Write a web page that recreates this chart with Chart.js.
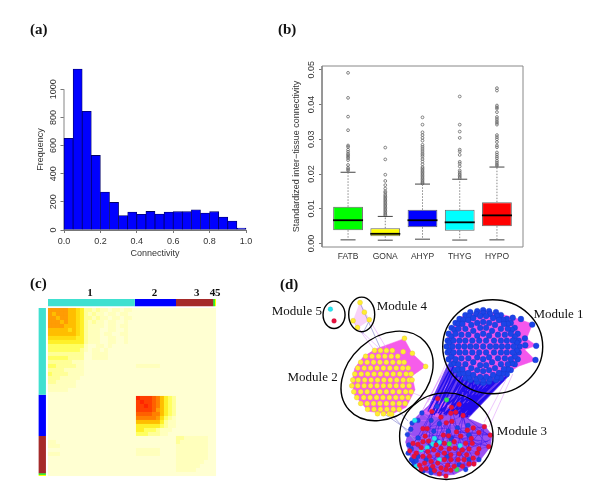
<!DOCTYPE html>
<html><head><meta charset="utf-8">
<script src="https://cdn.jsdelivr.net/npm/chart.js@4"></script>
<style>
html,body{margin:0;padding:0;background:#fff;width:600px;height:502px;overflow:hidden}
canvas{position:absolute;left:0;top:0;filter:blur(.4px)}
#c{filter:blur(.7px)}
.tag{position:absolute;font:bold 15px "Liberation Serif";color:#111;line-height:16px;filter:blur(.25px)}
</style></head><body>
<canvas id="a" width="600" height="502"></canvas>
<canvas id="b" width="600" height="502"></canvas>
<canvas id="c" width="600" height="502"></canvas>
<canvas id="d" width="600" height="502"></canvas>
<div class="tag" style="left:30px;top:21px">(a)</div>
<div class="tag" style="left:278px;top:21px">(b)</div>
<div class="tag" style="left:30px;top:275px">(c)</div>
<div class="tag" style="left:280px;top:276px">(d)</div>
<script>
// ---------- panel (a)
const histBins=[0.025,0.075,0.125,0.175,0.225,0.275,0.325,0.375,0.425,0.475,0.525,0.575,0.625,0.675,0.725,0.775,0.825,0.875,0.925,0.975];
const histFreq=[652,1144,844,530,270,196,102,128,111,132,113,128,130,130,144,120,130,92,64,14];
const histXTicks=[0,0.2,0.4,0.6,0.8,1];
const histYTicks=[0,200,400,600,800,1000];
// ---------- panel (b)
const tissues=["FATB","GONA","AHYP","THYG","HYPO"];
const boxColors=["#00FF00","#FFFF00","#0000FF","#00FFFF","#FF0000"];
const boxQ1=[0.00384,0.0021,0.0047,0.0037,0.0050];
const boxMedian=[0.0067,0.0028,0.0067,0.0061,0.0081];
const boxQ3=[0.01056,0.0044,0.0097,0.0097,0.0119];
const whiskerLow=[0.00105,0.00096,0.00125,0.0010,0.00105];
const whiskerHigh=[0.0205,0.0078,0.0171,0.0185,0.0220];
const outFATB=[.0491,.0419,.0365,.0326,.0282,.0278,.0270,.0264,.0258,.0254,.0250,.0246,.0240,.0226,.0218,.0214,.0210];
const outGONA=[.0276,.0242,.0198,.0180,.0168,.0158,.0150,.0146,.0140,.0136,.0132,.0128,.0124,.0120,.0116,.0112,.0108,.0104,.0100,.0096,.0092,.0088,.0084,.0081];
const outAHYP=[.0363,.0342,.0320,.0312,.0304,.0296,.0284,.0278,.0272,.0266,.0260,.0255,.0250,.0243,.0236,.0228,.0220,.0216,.0212,.0208,.0204,.0200,.0196,.0192,.0188,.0184,.0180,.0176,.0173];
const outTHYG=[.0423,.0342,.0322,.0304,.0270,.0265,.0255,.0235,.0230,.0222,.0210,.0205,.0200,.0196,.0192,.0188];
const outHYPO=[.0447,.0440,.0397,.0392,.0388,.0378,.0364,.0358,.0352,.0347,.0342,.0312,.0306,.0300,.0292,.0282,.0277,.0262,.0256,.0250,.0245,.0238,.0233,.0228,.0224];
const boxYTicks=[0,0.01,0.02,0.03,0.04,0.05];
// ---------- panel (c)
const heatPalette={a:"#FFFFD2",b:"#FFFFBC",c:"#FFFF98",d:"#FFFF60",e:"#FFF028",f:"#FFDC10",g:"#FFBE00",h:"#FF9C04",i:"#FF8000",j:"#FF6000",k:"#FF4000",l:"#FF2600"};
const heatRows=[
"hhhhhggfeccbcbbabbabba","hghhhggfecbcbbabbabba","hhghhggfeccbcbbabbabb","hhhghggfecbcbbabbaaba","hhhhgggfecbbbbabbabba",
"gggggfgfecbbbaabbaaba","gggggggfecbbbabbaabba","fffffffeecbbbaabbaaba","eeeeeeeeecbbbaabbaaba","dddddddddbaabbabaaaaa",
"ddddddddcbabbabaaaaaa","cccccccccaabbbbaaaaaa","dddddccccaabbbbaaaaaa","ccccccbbbaaaaaaaaaaaa","ddcccccbbaaaaaaaaaaaaabbbbbb",
"ccccbbbbbaaaaaaaaaaaa","dccccbbbbaaaaaaaaaaaa","cccbbbbbaaaaaaaaaaaaa","ccbbbbbaaaaaaaaaaaaaa","bbbbbbbaaaaaaaaaaaaaa","bbbbbaaaaaaaaaaaaaaaa","",
"aaaaaaaaaaaaaaaaaaaaaalkkkjigedc","aaaaaaaaaaaaaaaaaaaaaaklkkjigedc","aaaaaaaaaaaaaaaaaaaaaakklkjigedc","aaaaaaaaaaaaaaaaaaaaaakkkkjhgedc",
"aaaaaaaaaaaaaaaaaaaaaajjjjiigedc","aaaaaaaaaaaaaaaaaaaaaaiiiiihfdcb","aaaaaaaaaaaaaaaaaaaaaaggggggecbb","aaaaaaaaaaaaaaaaaaaaaaeeeeeedcbb",
"aaaaaaaaaaaaaaaaaaaaaaeedddcbbba","aaaaaaaaaaaaaaaaaaaaaadddcccbbaa",
"aaaaaaaaaaaaaaaaaaaaaaaaaaaaaaaaccbbbbbbaa","bbaaaaaaaaaaaaaaaaaaaaaaaaaaaaaacbbbbbbbaa","bbbaaaaaaaaaaaaaaaaaaaaaaaaaaaaabbbbbbbbaa","aaaaaaaaaaaaaaaaaaaaaabbbbbbaaaabbbbbbbbaa",
"bbbaaaaaaaaaaaaaaaaaaabbbbbbaaaabbbbbbbbaa","aaaaaaaaaaaaaaaaaaaaaaaaaaaaaaaabbbbbbbbaa","aaaaaaaaaaaaaaaaaaaaaaaaaaaaaaaabbbbbbbaaa","aaaaaaaaaaaaaaaaaaaaaaaaaaaaaaaabbbbbbaaaa",
"aaaaaaaaaaaaaaaaaaaaaaaaaaaaaaaabbbbbaaaaa","aaaaaaaaaaaaaaaaaaaaaaaaaaaaaaaaaaaaaaaaaa"];
const moduleEdges=[0,21.7,32,41.3,41.7,42];
const moduleColors=["#40E0D0","#0000FF","#A52A2A","#00EE00","#FFFF00"];
const moduleLabels=["1","2","3","4","5"];
const moduleLabelAt=[10.5,26.6,37.2,41.1,42.45];
// ---------- panel (d)  (coordinates on the 600x502 layout axes)
const module1Nodes=[523,348,522,354,521,361,518,366,514,372,510,376,504,380,499,382,492,384,486,385,480,384,473,382,468,380,462,376,458,372,454,366,451,361,450,354,449,348,450,342,451,335,454,329,458,324,462,320,468,316,473,313,480,312,486,311,492,312,499,313,504,316,510,320,514,324,518,329,521,335,522,342,
520,352,518,358,515,365,511,371,506,375,500,379,493,381,486,382,479,381,472,379,466,375,461,371,457,365,454,358,452,352,452,344,454,338,457,331,461,325,466,321,472,317,479,315,486,314,493,315,500,317,506,321,511,325,515,331,518,338,520,344,
517,348,516,354,514,361,511,366,507,371,502,375,496,377,489,379,483,379,476,377,471,375,465,371,461,366,458,361,456,354,455,348,456,342,458,335,461,330,465,325,471,321,476,319,483,317,489,317,496,319,502,321,507,325,511,330,514,335,516,342,
511,348,510,354,508,360,504,366,498,370,492,372,486,373,480,372,474,370,468,366,464,360,462,354,461,348,462,342,464,336,468,330,474,326,480,324,486,323,492,324,498,326,504,330,508,336,510,342,
505,348,504,354,501,360,495,364,489,367,483,367,476,364,471,360,468,354,467,348,468,342,471,336,476,332,483,329,489,329,495,332,501,336,504,342,
499,348,497,354,492,359,486,361,480,359,475,354,473,348,475,342,480,337,486,335,492,337,497,342,493,348,489,354,482,354,479,348,482,342,489,342,486,348,
516,318.7,524.3,320,535.7,325.7,528.3,339.7,528.7,346.7,539.7,347.3,539,361.7];
const module2Rows=[[352,376,382,388,394],[358,367,373.5,380,386.5,393,399.5],[364,362,368.5,375,381.5,388,394.5,401,406],[370,359,365.5,372,378.5,385,391.5,398,404.5,410],[376,356,362.5,369,375.5,382,388.5,395,401.5,408,413],[382,354,359.5,366,372.5,379,385.5,392,398.5,405,411,414],[388,353,359,365.5,372,378.5,385,391.5,398,404.5,411],[394,355,362,368.5,375,381.5,388,394.5,401,407.5,413],[400,358,365,371.5,378,384.5,391,397.5,404,410],[406,362,368.5,375,381.5,388,394.5,401,407],[412,369,375.5,382,388.5,395,401],[416.5,379,385,391]];
const module2Extra=[406.3,339.7,414.3,355,427.7,368.3,405,353.3,393.3,417];
const module4Nodes=[361.3,303.3,365.7,313,370.7,320.7,354.3,321.7,358.7,328.7];
const module3Red=[440,401,434,414.3,454,410,461.7,407,443.3,420,453.3,416,458.3,415,465.7,418.3,448.7,425.7,454.3,424.3,425,431.7,429.3,431.7,476,431,487.3,429.7,470,433.3,459,435,481.7,435.7,493.3,438.3,427.3,439.3,445.7,438.3,451,439,463.3,439.3,474,441.7,491.7,450,481.7,452.3,475,446.7,468.3,446.7,456.7,445,446.7,446.7,438.3,448.3,430.7,444.3,425,445,420,447.7,415,446.7,423.3,451,430,455,436,453.3,443.3,451.7,451.7,452.3,457.3,451.7,465,453.3,471.7,452.3,480,456.7,411.7,454.3,418.3,456.7,425,460,431.7,460,440,458.3,446.7,456.7,453.3,458.3,461.7,457.3,469.3,458.3,476,461.7,416,460,433.3,465,440,466.7,446.7,463.3,453.3,463.3,460.7,463.3,466.7,463.3,471.7,467.7,426.7,466.7,421.7,469,435,470,443.3,471.7,450,469,456.7,470,465,470,476.7,467.7,428.3,472.3,441.7,477.7,448.3,473.3,453.3,474,436.7,474.3,448.3,480,423.3,473.3,335,322];
const module3Blue=[439.3,409,424,415.7,433.3,423.3,420,423.3,414,426,412.7,432.3,409.3,437.7,420,441,436,434.3,460,431,470.7,428.3,441.7,426.7,450.7,434.3,410.7,448.3,413.3,452.3,415,465,418.3,464.3,431.7,450,420,460,428.3,463.3,468.3,473.3,481.7,463.3,450,460,461.7,468.3,433.3,476.7,433.3,472.7,413.3,463.3,416,468.3,440,445,453.3,441.7,471.7,438.3,410,456.7,425,475,471.7,463.3];
const module3Cyan=[416.7,423.3,436.7,441.7,435,447.3,441.7,445.7,462.7,449,423.3,453.3,429.3,451,441.7,463.3,418.3,470,331.3,310];
const module3Green=[449,402.3,451.7,447.3,459.3,473.3];
const module1Shape=[486,311,516,318,536,325,530,340,540,347,528,351,539,362,522,368,505,379,486,385,465,379,450,360,449,340,462,318];
const module2Shape=[376,351,406,340,414,355,428,368,414,378,417,392,408,410,393,417,370,414,356,398,353,385,356,370,365,358];
const module3Shape=[407.3,445,413.3,463.3,423.3,475,440,480,456.7,478.3,473.3,470,483.3,463.3,493.3,450,495,438.3,487.3,428.3,471.7,421.7,456.7,408.3,440,400,423.3,415,413.3,425,409.3,437.7];
const module4Shape=[361,303,371,321,359,329,354,322];
const bandShape=[450,366,512,378,470,422,428,415];
const pinkShape=[424,416,440,402,452,408,440,420];
const bandEdges=[456,368,434,418,458,370,438,416,462,374,442,414,465,376,446,415,468,378,450,416,472,380,454,414,475,381,458,415,480,383,462,417,484,384,466,417,488,384,470,415,492,384,470,418,496,383,466,420,500,382,462,419,504,380,458,418,507,382,464,421,478,382,440,416,482,383,446,417,486,384,452,417,490,384,456,417,494,384,460,416,498,383,464,415,502,381,468,414,470,379,462,420,474,381,466,419,476,382,470,420,480,383,474,417,510,378,468,420,512,376,472,418,452,372,430,414,454,374,433,417,460,376,436,418,466,380,442,418,470,382,448,418];
const lightEdges=[447,372,424,414,443,378,421,420,450,362,430,405,454,380,431,416,462,392,436,412,472,392,450,410,509,382,487,425,516,376,492,430,354,322,376,352,359,329,383,352,371,321,390,353,414,395,437,404];
const greyEdges=[361,303,382,350,393,417,420,447,385,416,414,436,399,412,410,424,371,321,364,335];
const fanBlue=[448,425,428,466,448,425,440,466,448,425,452,470,448,425,466,462,454,424,476,462,454,424,484,452,454,424,434,470,443,420,415,446,443,420,425,460,443,420,436,453,466,418,446,463,466,418,457,470,466,418,472,452,466,418,491,438,476,431,493,438,476,431,492,450,476,431,466,470,487,430,481,463,487,430,460,463,434,414,412,454,434,414,430,455,434,414,420,447,440,401,426,445,440,401,446,446,454,410,451,452,454,410,465,453,461,407,470,433,493,438,460,435,492,450,451,439,491,445,446,439,493,443,471,452,443,477,465,453,428,472,440,458,456,478,446,457,476,467,425,431,465,470,420,441,453,474,415,447,448,480];
const ringCenterX=[335,363,388.7,495.7,448.7];
const ringCenterY=[315.7,315.3,378,348.3,439.3];
const ringRadiusX=[11,13,51,50,46.7];
const ringRadiusY=[13.7,17.3,39,47,43.3];
const ringAngleDeg=[0,0,-42,0,0];
const noteTexts=["Module 1","Module 2","Module 3","Module 4","Module 5"];
const noteX=[562.3,313.3,525.3,403.7,297.3];
const noteY=[315.3,379.3,434.3,307.7,312.3];

const pts=f=>{const r=[];for(let i=0;i<f.length;i+=2)r.push({x:f[i],y:f[i+1]});return r;};
const segs=f=>{const r=[];for(let i=0;i<f.length;i+=4)r.push({x:f[i],y:f[i+1]},{x:f[i+2],y:f[i+3]},{x:NaN,y:NaN});return r;};
Chart.defaults.animation=false;
Chart.defaults.responsive=false;
Chart.defaults.plugins.legend.display=false;
Chart.defaults.plugins.tooltip.enabled=false;
Chart.defaults.font.family='"Liberation Sans"';
Chart.defaults.font.size=9;
Chart.defaults.color='#333';
const setTicks=list=>s=>{s.ticks=list.map(v=>({value:v}));};
const sansFont={family:'"Liberation Sans"',size:9};

new Chart(document.getElementById('a'),{type:'bar',data:{datasets:[
 {type:'scatter',showLine:true,data:[{x:0,y:0},{x:0,y:1000}],borderColor:'#999',borderWidth:1.2,pointRadius:0,clip:false,order:1},
 {data:histBins.map((x,i)=>({x,y:histFreq[i]})),backgroundColor:'#0000FF',borderColor:'#00006a',borderWidth:.8,borderSkipped:false,barPercentage:1,categoryPercentage:1,clip:false,order:0}
]},options:{layout:{padding:{left:35,top:69,right:354,bottom:243}},scales:{
 x:{type:'linear',offset:false,min:0,max:1,afterBuildTicks:setTicks(histXTicks),afterFit:s=>{s.height=29},
   grid:{offset:false,drawOnChartArea:false,tickLength:3,tickColor:'#777'},border:{color:'#777'},
   ticks:{maxRotation:0,autoSkip:false,padding:3,font:sansFont,callback:v=>v.toFixed(1)},
   title:{display:true,text:'Connectivity',font:sansFont,padding:0,color:'#333'}},
 y:{type:'linear',min:0,max:1144,afterBuildTicks:setTicks(histYTicks),afterFit:s=>{s.width=29},
   grid:{drawOnChartArea:false,tickLength:3.5,tickColor:'#777'},border:{display:false},
   ticks:{minRotation:90,maxRotation:90,crossAlign:'center',autoSkip:false,padding:-3.2,font:sansFont,callback:v=>String(v)},
   title:{display:true,text:'Frequency',font:sansFont,padding:0,color:'#333'}}
}}});

const boxWhisk=[];tissues.forEach((_,i)=>{boxWhisk.push({x:i+1,y:boxQ3[i]},{x:i+1,y:whiskerHigh[i]},{x:NaN,y:NaN},{x:i+1,y:boxQ1[i]},{x:i+1,y:whiskerLow[i]},{x:NaN,y:NaN});});
const outliers=[outFATB,outGONA,outAHYP,outTHYG,outHYPO];
const boxFrame=[{x:.3,y:-.001},{x:5.7,y:-.001},{x:5.7,y:.05107},{x:.3,y:.05107},{x:.3,y:-.001}];
new Chart(document.getElementById('b'),{type:'bar',data:{datasets:[
 {type:'scatter',data:boxMedian.map((y,i)=>({x:i+1,y})),pointStyle:'line',pointRadius:15,pointBorderWidth:1.8,pointBorderColor:'#000',order:0},
 {data:tissues.map((_,i)=>({x:i+1,y:[boxQ1[i],boxQ3[i]]})),backgroundColor:boxColors,borderColor:'#666',borderWidth:1,borderSkipped:false,barPercentage:.8,categoryPercentage:1,order:1},
 {type:'scatter',showLine:true,data:boxWhisk,borderColor:'#888',borderWidth:1,borderDash:[1.5,1.5],pointRadius:0,order:2},
 {type:'scatter',data:[...whiskerLow,...whiskerHigh].map((y,i)=>({x:i%5+1,y})),pointStyle:'line',pointRadius:7.5,pointBorderWidth:1,pointBorderColor:'#444',order:2},
 {type:'scatter',data:outliers.flatMap((o,i)=>o.map(y=>({x:i+1,y}))),pointRadius:1.4,pointBorderWidth:.8,pointBorderColor:'#666',pointBackgroundColor:'rgba(0,0,0,0)',order:3},
 {type:'scatter',showLine:true,data:boxFrame,borderColor:'#888',borderWidth:1,pointRadius:0,clip:false,order:4}
]},options:{layout:{padding:{left:291,top:66,right:77,bottom:235}},scales:{
 x:{type:'linear',offset:false,min:.3,max:5.7,afterBuildTicks:setTicks(tissues.map((_,i)=>i+1)),afterFit:s=>{s.height=20},
   grid:{display:false,offset:false,drawTicks:false},border:{display:false},
   ticks:{maxRotation:0,autoSkip:false,padding:5,font:{size:8.5},callback:v=>tissues[v-1]}},
 y:{type:'linear',min:-.001,max:.05107,afterBuildTicks:setTicks(boxYTicks),afterFit:s=>{s.width=31},
   grid:{drawOnChartArea:false,tickLength:3,tickColor:'#777'},border:{display:false},
   ticks:{minRotation:90,maxRotation:90,crossAlign:'center',autoSkip:false,padding:-.8,font:sansFont,callback:v=>v.toFixed(2)},
   title:{display:true,text:'Standardized inter\u2212tissue connectivity',font:sansFont,padding:0,color:'#333'}}
}}});

const heatPoints=[],heatColors=[];
heatRows.forEach((row,i)=>{row.padEnd(42,'a').split('').forEach((k,j)=>{heatPoints.push({x:j+.5,y:i+.5});heatColors.push(heatPalette[k]);});});
const strips=[];
moduleColors.forEach((c,i)=>{
 strips.push({type:'scatter',showLine:true,data:[{x:moduleEdges[i],y:-1.35},{x:moduleEdges[i+1],y:-1.35}],borderColor:c,borderWidth:7.3,pointRadius:0,borderCapStyle:'butt',clip:false});
 strips.push({type:'scatter',showLine:true,data:[{x:-1.43,y:moduleEdges[i]},{x:-1.43,y:moduleEdges[i+1]}],borderColor:c,borderWidth:7.3,pointRadius:0,borderCapStyle:'butt',clip:false});
});
new Chart(document.getElementById('c'),{type:'scatter',data:{datasets:[
 ...strips,
 {data:heatPoints,pointStyle:'rect',pointRadius:2.9,pointBorderWidth:0,pointBackgroundColor:heatColors}
]},options:{layout:{padding:{left:36,top:284,right:380,bottom:22}},scales:{
 x:{type:'linear',position:'top',min:-3,max:43,afterBuildTicks:setTicks(moduleLabelAt),afterFit:s=>{s.height=16},
   grid:{display:false,drawTicks:false},border:{display:false},
   ticks:{maxRotation:0,autoSkip:false,padding:0,color:'#111',font:{family:'"Liberation Serif"',size:11,weight:'bold'},callback:v=>moduleLabels[moduleLabelAt.indexOf(v)]}},
 y:{type:'linear',reverse:true,min:-2,max:43,display:false}
}}});

const flatRows=module2Rows.flatMap(r=>r.slice(1).flatMap(x=>[x,r[0]]));
const shape=(f,c,o)=>({type:'scatter',showLine:true,data:pts(f),fill:'shape',backgroundColor:c,borderColor:c,borderWidth:.5,pointRadius:0,order:o});
const edge=(f,c,w,o)=>({type:'scatter',showLine:true,data:segs(f),borderColor:c,borderWidth:w,pointRadius:0,order:o});
const nodes=(f,c,b,o,r)=>({type:'scatter',data:pts(f),pointRadius:r||2.4,pointBackgroundColor:c,pointBorderColor:b,pointBorderWidth:.3,order:o});
const ringPlugin={id:'rings',afterDatasetsDraw(ch){
 const {ctx,scales:{x,y}}=ch;ctx.save();ctx.strokeStyle='#000';ctx.lineWidth=1.4;
 ringCenterX.forEach((cx,i)=>{ctx.beginPath();
  ctx.ellipse(x.getPixelForValue(cx),y.getPixelForValue(ringCenterY[i]),ringRadiusX[i],ringRadiusY[i],ringAngleDeg[i]*Math.PI/180,0,Math.PI*2);ctx.stroke();});
 ctx.fillStyle='#111';ctx.font='13px "Liberation Serif"';ctx.textAlign='center';ctx.textBaseline='middle';
 noteTexts.forEach((t,i)=>ctx.fillText(t,x.getPixelForValue(noteX[i]),y.getPixelForValue(noteY[i])));
 ctx.restore();}};
new Chart(document.getElementById('d'),{type:'scatter',plugins:[ringPlugin],data:{datasets:[
 nodes(module1Nodes,'#1C44E8','#1433c0',1,2.9),
 nodes(flatRows.concat(module2Extra,module4Nodes),'#FFEE33','#d8b83a',1,2.5),
 nodes(module3Blue,'#1C44E8','#1433c0',1),
 nodes(module3Red,'#E8103C','#c01040',0),
 nodes(module3Cyan,'#22E6F0','#20c0d0',0),
 nodes(module3Green,'#30E060','#30c050',0),
 edge(fanBlue,'rgba(50,20,235,.75)',.7,3),
 {type:'scatter',showLine:true,data:pts(module3Red.slice(0,-2)),borderColor:'rgba(40,20,230,.5)',borderWidth:.6,pointRadius:0,order:4},
 {type:'scatter',showLine:true,data:pts(module3Blue),borderColor:'rgba(255,120,240,.6)',borderWidth:.6,pointRadius:0,order:4},
 edge(bandEdges,'rgba(30,10,235,.95)',1.5,5),
 edge(greyEdges,'#9a9ad8',.8,5),
 edge(lightEdges,'rgba(225,160,250,.75)',.8,6),
 shape(module1Shape,'#F458EC',7),
 shape(module2Shape,'#F65CEA',7),
 shape(module4Shape,'rgba(245,180,245,.6)',7),
 shape(pinkShape,'rgba(240,100,240,.75)',7),
 shape(module3Shape,'#9A50F2',8),
 shape(bandShape,'#6A40F0',9)
]},options:{layout:{padding:{left:260,top:265,right:0,bottom:0}},scales:{
 x:{type:'linear',min:260,max:600,display:false},
 y:{type:'linear',reverse:true,min:265,max:502,display:false}
}}});
</script></body></html>
